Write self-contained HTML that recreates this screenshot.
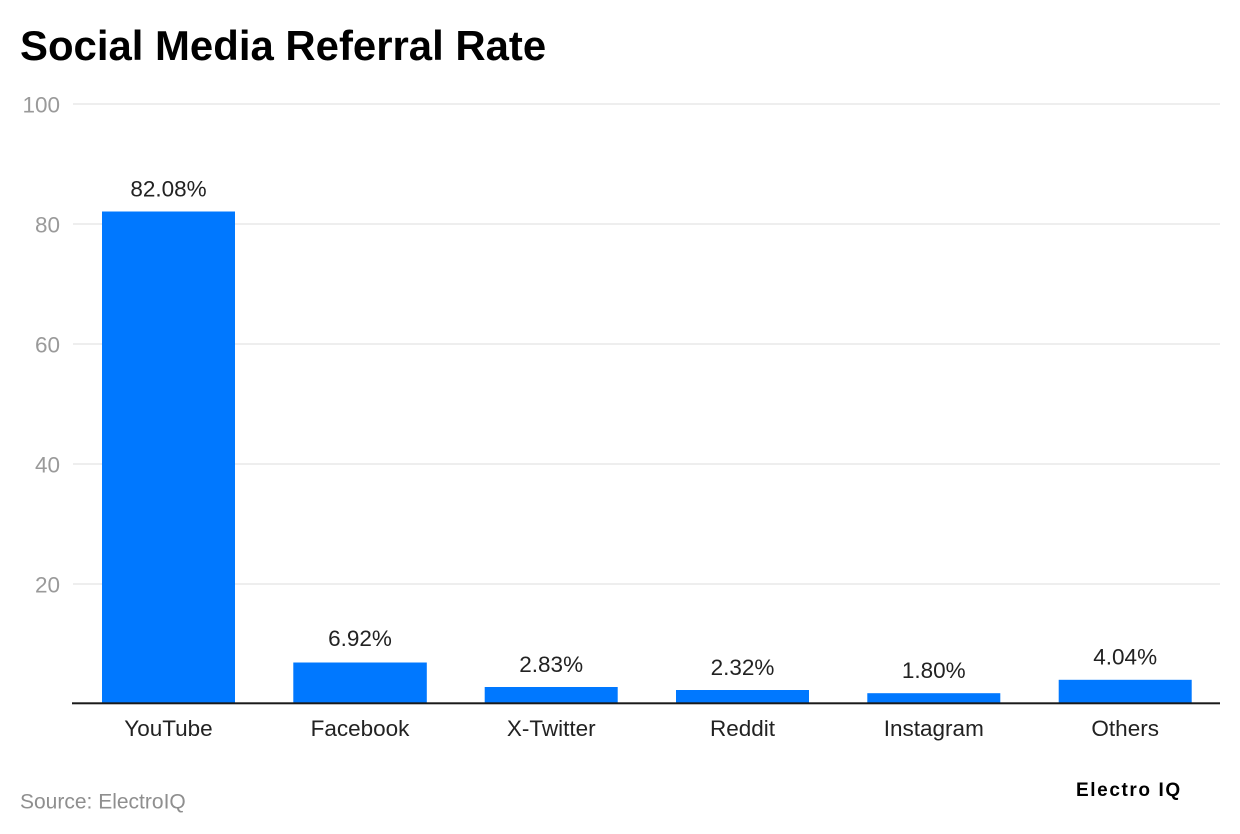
<!DOCTYPE html>
<html>
<head>
<meta charset="utf-8">
<style>
  html,body{margin:0;padding:0;background:#fff;}
  body{width:1240px;height:834px;overflow:hidden;font-family:"Liberation Sans",Arial,sans-serif;}
  svg{display:block;}
</style>
</head>
<body>
<svg width="1240" height="834" viewBox="0 0 1240 834" xmlns="http://www.w3.org/2000/svg" font-family="Liberation Sans, Arial, sans-serif">
  <rect x="0" y="0" width="1240" height="834" fill="#ffffff"/>
  <text x="20" y="60" font-size="41.9" font-weight="bold" fill="#000">Social Media Referral Rate</text>

  <!-- gridlines -->
  <g stroke="#e3e3e3" stroke-width="1.3">
    <line x1="73" y1="104" x2="1220" y2="104"/>
    <line x1="73" y1="224" x2="1220" y2="224"/>
    <line x1="73" y1="344" x2="1220" y2="344"/>
    <line x1="73" y1="464" x2="1220" y2="464"/>
    <line x1="73" y1="584" x2="1220" y2="584"/>
  </g>

  <!-- y tick labels -->
  <g font-size="22.5" fill="#9a9a9a" text-anchor="end">
    <text x="60" y="112.5">100</text>
    <text x="60" y="232.5">80</text>
    <text x="60" y="352.5">60</text>
    <text x="60" y="472.5">40</text>
    <text x="60" y="592.5">20</text>
  </g>

  <!-- bars -->
  <g fill="#0078ff">
    <rect x="102" y="211.5" width="133" height="491.5"/>
    <rect x="293.3" y="662.5" width="133.5" height="40.5"/>
    <rect x="484.7" y="687" width="133" height="16"/>
    <rect x="676" y="690" width="133" height="13"/>
    <rect x="867.3" y="693.2" width="133" height="9.8"/>
    <rect x="1058.7" y="679.8" width="133" height="23.2"/>
  </g>

  <!-- axis -->
  <rect x="72" y="702.3" width="1148" height="2" fill="#1a1a1a"/>

  <!-- value labels -->
  <g font-size="22.5" fill="#222" text-anchor="middle">
    <text x="168.5" y="196.5">82.08%</text>
    <text x="360" y="646">6.92%</text>
    <text x="551.2" y="671.8">2.83%</text>
    <text x="742.5" y="674.8">2.32%</text>
    <text x="933.8" y="678">1.80%</text>
    <text x="1125.2" y="664.5">4.04%</text>
  </g>

  <!-- category labels -->
  <g font-size="22.5" fill="#222" text-anchor="middle">
    <text x="168.5" y="736">YouTube</text>
    <text x="360" y="736">Facebook</text>
    <text x="551.2" y="736">X-Twitter</text>
    <text x="742.5" y="736">Reddit</text>
    <text x="933.8" y="736">Instagram</text>
    <text x="1125.2" y="736">Others</text>
  </g>

  <text x="20" y="808.5" font-size="21" fill="#8f8f8f">Source: ElectroIQ</text>
  <text x="1076" y="796" font-size="19" font-weight="bold" fill="#000" letter-spacing="1.6">Electro IQ</text>
</svg>
</body>
</html>
